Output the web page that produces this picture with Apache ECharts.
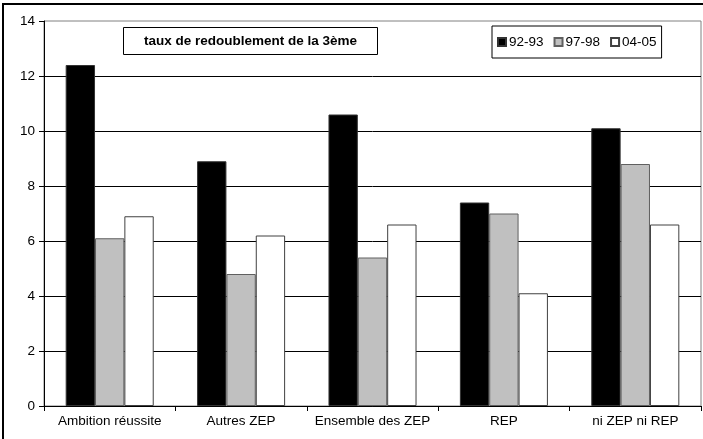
<!DOCTYPE html>
<html>
<head>
<meta charset="utf-8">
<script src="https://cdn.jsdelivr.net/npm/echarts@6/dist/echarts.min.js"></script>
<style>html,body{margin:0;padding:0;background:#fff}#c{width:703px;height:439px}</style>
</head>
<body>
<div id="c"></div>
<script>
const categories = ['Ambition réussite', 'Autres ZEP', 'Ensemble des ZEP', 'REP', 'ni ZEP ni REP'];
const s9293 = [12.4, 8.9, 10.6, 7.4, 10.1];
const s9798 = [6.1, 4.8, 5.4, 7.0, 8.8];
const s0405 = [6.9, 6.2, 6.6, 4.1, 6.6];
const seriesNames = ['92-93', '97-98', '04-05'];
const yTicks = {min: 0, max: 14, interval: 2};

const font = 'Liberation Sans, Arial, sans-serif';
const chart = echarts.init(document.getElementById('c'), null, {renderer: 'canvas'});
function bar(name, data, color, border) {
  return {
    name, type: 'bar', data, barGap: '0%', barCategoryGap: '33%',
    itemStyle: {color, borderColor: border, borderWidth: 1},
    emphasis: {disabled: true}, animation: false
  };
}
chart.setOption({
  animation: false,
  textStyle: {fontFamily: font},
  graphic: [{
    type: 'rect', shape: {x: 3, y: 4, width: 720, height: 450},
    style: {fill: 'none', stroke: '#000', lineWidth: 2}, silent: true, z: 100
  }],
  title: {
    text: 'taux de redoublement de la 3ème',
    left: 123, top: 27,
    padding: [7, 21, 7, 21],
    borderColor: '#000', borderWidth: 1, backgroundColor: '#fff',
    textStyle: {fontFamily: font, fontSize: 13.5, fontWeight: 'bold', color: '#000'}
  },
  legend: {
    data: seriesNames,
    left: 492, top: 26,
    padding: [9, 5, 9, 5],
    itemGap: 10, itemWidth: 8, itemHeight: 8,
    icon: 'rect',
    borderColor: '#000', borderWidth: 1, backgroundColor: '#fff',
    textStyle: {fontFamily: font, fontSize: 13.5, color: '#000', padding: [0, 0, 0, -2]},
    selectedMode: false
  },
  grid: {left: 44, top: 21, right: 2, bottom: 33, containLabel: false,
         show: true, borderColor: '#808080', borderWidth: 1, backgroundColor: 'transparent'},
  xAxis: {
    type: 'category', data: categories,
    axisLine: {lineStyle: {color: '#000', width: 1}},
    axisTick: {show: true, length: 5, lineStyle: {color: '#000'}},
    axisLabel: {color: '#000', fontSize: 13.5, fontFamily: font, margin: 8, interval: 0}
  },
  yAxis: {
    type: 'value', min: yTicks.min, max: yTicks.max, interval: yTicks.interval,
    axisLine: {show: true, lineStyle: {color: '#000', width: 1}},
    axisTick: {show: true, length: 5, lineStyle: {color: '#000'}},
    axisLabel: {color: '#000', fontSize: 13.5, fontFamily: font, margin: 9},
    splitLine: {show: true, showMaxLine: false, lineStyle: {color: '#000', width: 1}}
  },
  series: [
    bar(seriesNames[0], s9293, '#000000', '#333333'),
    bar(seriesNames[1], s9798, '#c0c0c0', '#606060'),
    bar(seriesNames[2], s0405, '#ffffff', '#404040')
  ]
});
</script>
</body>
</html>
